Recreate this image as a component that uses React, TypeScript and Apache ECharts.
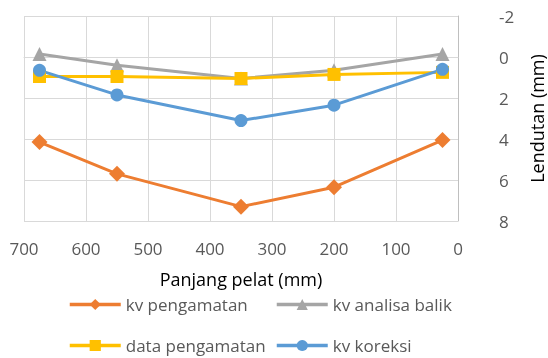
import React, { useEffect, useRef } from "react";
import * as echarts from "echarts";

const xPositions = [675, 550, 350, 200, 25];
const kvPengamatan = [4.15, 5.7, 7.3, 6.35, 4.05];
const kvAnalisaBalik = [-0.15, 0.4, 1.05, 0.65, -0.15];
const dataPengamatan = [0.95, 0.95, 1.05, 0.85, 0.75];
const kvKoreksi = [0.65, 1.85, 3.1, 2.35, 0.6];
const xTicks = { min: 0, max: 700, interval: 100 };
const yTicks = { min: -2, max: 8, interval: 2 };

const FONT = "'Open Sans', 'Noto Sans', sans-serif";

export default function App() {
  const ref = useRef<HTMLDivElement>(null);
  useEffect(() => {
    if (!ref.current) return;
    const chart = echarts.init(ref.current, undefined, { renderer: "svg" });
    const pair = (ys: number[]) => xPositions.map((x, i) => [x, ys[i]]);
    const mk = (name: string, ys: number[], color: string, symbol: string, size: number) => ({
      name,
      type: "line",
      data: pair(ys),
      symbol,
      symbolSize: size,
      lineStyle: { color, width: 3 },
      itemStyle: { color },
    });
    const legendText = { color: "#595959", fontSize: 17, fontFamily: FONT };
    const leg = (name: string, left: number, top: number) => ({
      data: [name],
      left,
      top,
      itemWidth: 51,
      itemHeight: 14,
      itemGap: 0,
      padding: 0,
      lineStyle: { width: 3.5 },
      textStyle: legendText,
    });
    chart.setOption({
      animation: false,
      textStyle: { fontFamily: FONT },
      grid: { left: 24, right: 90, top: 16, bottom: 137, containLabel: false, outerBoundsMode: "none" },
      xAxis: {
        type: "value",
        inverse: true,
        min: xTicks.min,
        max: xTicks.max,
        interval: xTicks.interval,
        name: "Panjang pelat (mm)",
        nameLocation: "middle",
        nameGap: 49,
        nameTextStyle: { color: "#000", fontSize: 18, fontFamily: FONT },
        axisLine: { show: true, lineStyle: { color: "#D9D9D9" } },
        axisTick: { show: false },
        axisLabel: { color: "#595959", fontSize: 17, margin: 19, fontFamily: FONT },
        splitLine: { show: true, lineStyle: { color: "#D9D9D9", width: 1 } },
      },
      yAxis: {
        type: "value",
        position: "right",
        inverse: true,
        min: yTicks.min,
        max: yTicks.max,
        interval: yTicks.interval,
        name: "Lendutan (mm)",
        nameLocation: "middle",
        nameRotate: 90,
        nameGap: 70,
        nameTextStyle: { color: "#000", fontSize: 18, fontFamily: FONT },
        axisLine: { show: true, lineStyle: { color: "#BFBFBF" } },
        axisTick: { show: false },
        axisLabel: { color: "#595959", fontSize: 17, margin: 41, align: "left", fontFamily: FONT },
        splitLine: { show: true, lineStyle: { color: "#D9D9D9", width: 1 } },
      },
      legend: [
        leg("kv pengamatan", 68, 296),
        leg("kv analisa balik", 275, 296),
        leg("data pengamatan", 68, 337),
        leg("kv koreksi", 275, 337),
      ],
      series: [
        mk("kv pengamatan", kvPengamatan, "#ED7D31", "diamond", 16),
        mk("kv analisa balik", kvAnalisaBalik, "#A5A5A5", "triangle", 14),
        mk("data pengamatan", dataPengamatan, "#FFC000", "rect", 13),
        mk("kv koreksi", kvKoreksi, "#5B9BD5", "circle", 13),
      ],
    });
    return () => chart.dispose();
  }, []);
  return (
    <div
      ref={ref}
      style={{ position: "fixed", left: 0, top: 0, width: 548, height: 358, overflow: "hidden" }}
    />
  );
}
